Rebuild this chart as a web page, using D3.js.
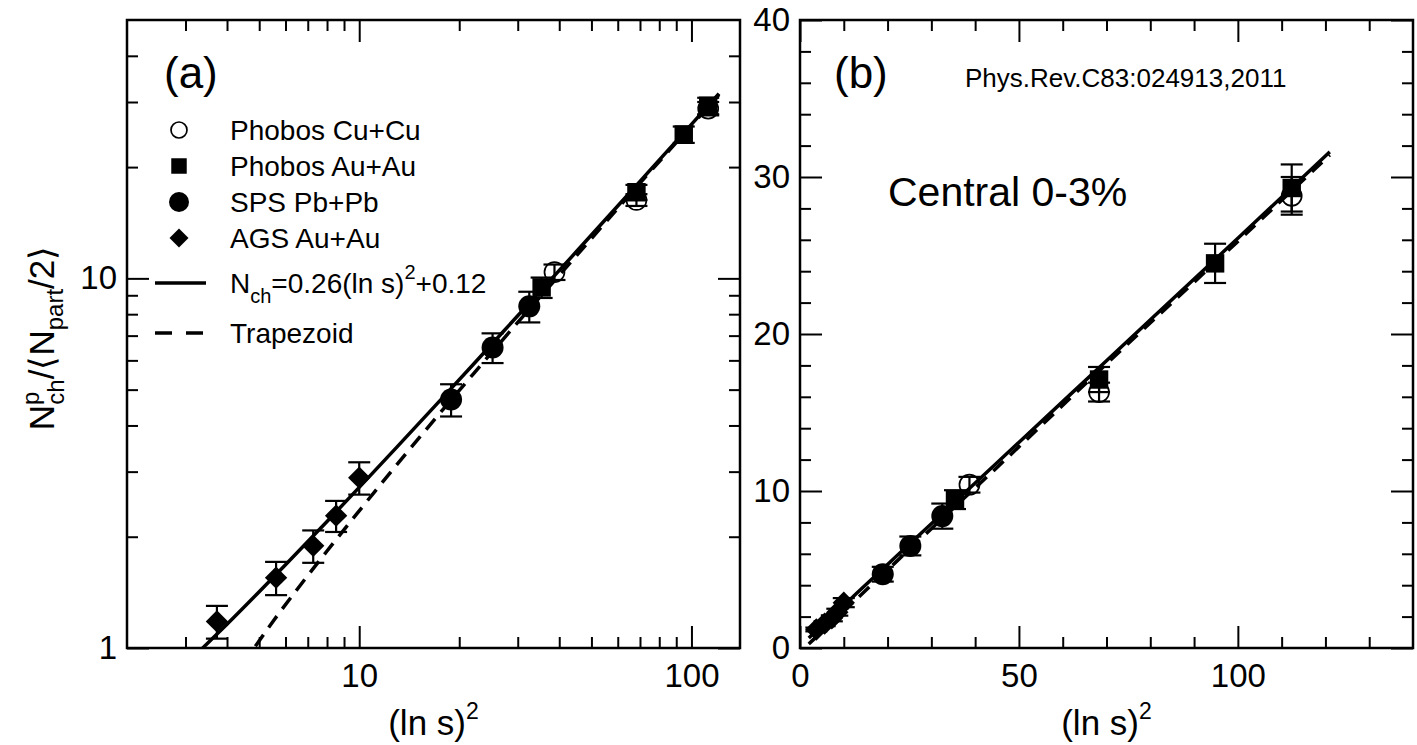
<!DOCTYPE html>
<html>
<head>
<meta charset="utf-8">
<script src="https://cdn.jsdelivr.net/npm/d3@7"></script>
<style>
  html, body { margin: 0; padding: 0; background: #fff; }
  svg { display: block; }
  text { font-family: "Liberation Sans", Arial, Helvetica, sans-serif; fill: #000; }
</style>
</head>
<body>
<svg id="chart" width="1417" height="745"></svg>
<script>
// ---------------- data ----------------
const cuX = [38.7, 68.3, 112.3];            // Phobos Cu+Cu
const cuY = [10.4, 16.3, 28.8];
const cuErr = [0.5, 0.6, 1.2];

const auX = [35.4, 68.3, 94.8, 112.3];      // Phobos Au+Au
const auY = [9.45, 17.1, 24.5, 29.3];
const auErr = [0.6, 0.8, 1.25, 1.5];

const spsX = [18.9, 25.2, 32.5];            // SPS Pb+Pb
const spsY = [4.7, 6.5, 8.4];
const spsErr = [0.47, 0.6, 0.8];

const agsX = [3.73, 5.62, 7.27, 8.52, 10.0]; // AGS Au+Au
const agsY = [1.18, 1.55, 1.89, 2.28, 2.89];
const agsErr = [0.12, 0.16, 0.19, 0.22, 0.29];

// solid line: N_ch = 0.26 (ln s)^2 + 0.12
const fitX = [2.0, 3.38, 4, 5, 6, 8, 10, 13, 17, 22, 30, 45, 70, 100, 121];
const fitY = [0.64, 1.00, 1.16, 1.42, 1.68, 2.20, 2.72, 3.50, 4.54, 5.84, 7.92, 11.8, 18.3, 26.1, 31.6];
// dashed line: Trapezoid
const trapX = [2.0, 4.83, 5.5, 6.5, 8, 10, 13, 17, 22, 30, 45, 70, 100, 121];
const trapY = [0.26, 1.00, 1.18, 1.44, 1.83, 2.35, 3.14, 4.19, 5.50, 7.60, 11.5, 18.1, 25.9, 31.4];

// axes ticks / labels
const xMajorA = [10, 100];
const xMinorA = [3, 4, 5, 6, 7, 8, 9, 20, 30, 40, 50, 60, 70, 80, 90];
const yMajorA = [1, 10];
const yMinorA = [2, 3, 4, 5, 6, 7, 8, 9, 20, 30, 40];
const xMajorB = [0, 50, 100];
const xMinorB = [10, 20, 30, 40, 60, 70, 80, 90, 110, 120, 130];
const yMajorB = [0, 10, 20, 30, 40];
const yMinorB = [2, 4, 6, 8, 12, 14, 16, 18, 22, 24, 26, 28, 32, 34, 36, 38];

const legendLabels = ["Phobos Cu+Cu", "Phobos Au+Au", "SPS Pb+Pb", "AGS Au+Au"];

// ---------------- layout ----------------
const svg = d3.select("#chart");
const A = {x0: 127, x1: 740, y0: 20, y1: 648};
const B = {x0: 800, x1: 1413, y0: 20, y1: 648};
const MAJ = 22, MIN = 11;

const xA = d3.scaleLog().domain([2, 140]).range([A.x0, A.x1]);
const yA = d3.scaleLog().domain([1, 50]).range([A.y1, A.y0]);
const xB = d3.scaleLinear().domain([0, 140]).range([B.x0, B.x1]);
const yB = d3.scaleLinear().domain([0, 40]).range([B.y1, B.y0]);

const zip = (xs, ys, es) => xs.map((x, i) => ({x, y: ys[i], e: es ? es[i] : 0}));
const cu = zip(cuX, cuY, cuErr), au = zip(auX, auY, auErr),
      sps = zip(spsX, spsY, spsErr), ags = zip(agsX, agsY, agsErr);
const fit = zip(fitX, fitY), trap = zip(trapX, trapY);

function drawAxes(P, x, y, xMaj, xMin, yMaj, yMin) {
  const g = svg.append("g");
  const style = sel => {
    sel.select(".domain").remove();
    sel.selectAll(".tick line").attr("stroke", "#000").attr("stroke-width", 2);
    sel.selectAll(".tick text").style("font-size", "33px")
      .style("font-family", '"Liberation Sans", Arial, sans-serif').attr("fill", "#000");
  };
  g.append("g").attr("transform", `translate(0,${P.y1})`)
    .call(d3.axisBottom(x).tickValues(xMaj).tickSize(-MAJ).tickPadding(10).tickFormat(d3.format("d"))).call(style)
    .selectAll(".tick text").attr("dy", "0.88em");
  g.append("g").attr("transform", `translate(0,${P.y1})`)
    .call(d3.axisBottom(x).tickValues(xMin).tickSize(-MIN).tickFormat("")).call(style);
  g.append("g").attr("transform", `translate(0,${P.y0})`)
    .call(d3.axisTop(x).tickValues(xMaj).tickSize(-MAJ).tickFormat("")).call(style);
  g.append("g").attr("transform", `translate(0,${P.y0})`)
    .call(d3.axisTop(x).tickValues(xMin).tickSize(-MIN).tickFormat("")).call(style);
  g.append("g").attr("transform", `translate(${P.x0},0)`)
    .call(d3.axisLeft(y).tickValues(yMaj).tickSize(-MAJ).tickPadding(10).tickFormat(d3.format("d"))).call(style);
  g.append("g").attr("transform", `translate(${P.x0},0)`)
    .call(d3.axisLeft(y).tickValues(yMin).tickSize(-MIN).tickFormat("")).call(style);
  g.append("g").attr("transform", `translate(${P.x1},0)`)
    .call(d3.axisRight(y).tickValues(yMaj).tickSize(-MAJ).tickFormat("")).call(style);
  g.append("g").attr("transform", `translate(${P.x1},0)`)
    .call(d3.axisRight(y).tickValues(yMin).tickSize(-MIN).tickFormat("")).call(style);
  g.append("rect").attr("x", P.x0).attr("y", P.y0).attr("width", P.x1 - P.x0).attr("height", P.y1 - P.y0)
    .attr("fill", "none").attr("stroke", "#000").attr("stroke-width", 2.5);
  const t = g.append("text").attr("x", (P.x0 + P.x1) / 2).attr("y", 735)
    .attr("text-anchor", "middle").style("font-size", "35px");
  t.append("tspan").text("(ln s)");
  t.append("tspan").attr("dy", -16).style("font-size", "23px").text("2");
}

function drawData(P, x, y, id) {
  svg.append("clipPath").attr("id", id)
    .append("rect").attr("x", P.x0).attr("y", P.y0).attr("width", P.x1 - P.x0).attr("height", P.y1 - P.y0);
  const g = svg.append("g").attr("clip-path", `url(#${id})`);
  const CAP = 11;
  const errs = g.append("g").attr("stroke", "#000").attr("stroke-width", 2.2);
  [cu, au, sps, ags].forEach(s => {
    s.forEach(d => {
      const px = x(d.x), yt = y(d.y + d.e), yb = y(d.y - d.e);
      errs.append("line").attr("x1", px).attr("x2", px).attr("y1", yt).attr("y2", yb);
      errs.append("line").attr("x1", px - CAP).attr("x2", px + CAP).attr("y1", yt).attr("y2", yt);
      errs.append("line").attr("x1", px - CAP).attr("x2", px + CAP).attr("y1", yb).attr("y2", yb);
    });
  });
  const line = d3.line().x(d => x(d.x)).y(d => y(d.y)).curve(d3.curveMonotoneX);
  g.append("path").datum(trap).attr("d", line).attr("fill", "none").attr("stroke", "#000")
    .attr("stroke-width", 3.5).attr("stroke-dasharray", "14,9");
  g.append("path").datum(fit).attr("d", line).attr("fill", "none").attr("stroke", "#000")
    .attr("stroke-width", 3.5);
  const sym = (type, size) => d3.symbol().type(type).size(size)();
  g.selectAll(".sq").data(au).join("path").attr("transform", d => `translate(${x(d.x)},${y(d.y)})`)
    .attr("d", sym(d3.symbolSquare, 340)).attr("fill", "#000");
  g.selectAll(".ci").data(sps).join("circle").attr("cx", d => x(d.x)).attr("cy", d => y(d.y))
    .attr("r", 11).attr("fill", "#000");
  g.selectAll(".di").data(ags).join("path")
    .attr("transform", d => `translate(${x(d.x)},${y(d.y)}) rotate(45)`)
    .attr("d", sym(d3.symbolSquare, 250)).attr("fill", "#000");
  g.selectAll(".oc").data(cu).join("circle").attr("cx", d => x(d.x)).attr("cy", d => y(d.y))
    .attr("r", 10).attr("fill", "none").attr("stroke", "#000").attr("stroke-width", 1.7);
}

drawData(A, xA, yA, "clipA");
drawData(B, xB, yB, "clipB");
drawAxes(A, xA, yA, xMajorA, xMinorA, yMajorA, yMinorA);
drawAxes(B, xB, yB, xMajorB, xMinorB, yMajorB, yMinorB);

// y title (panel a)
const yt = svg.append("text").attr("transform", "translate(54,338) rotate(-90)")
  .attr("text-anchor", "middle").style("font-size", "35px");
yt.append("tspan").text("N");
yt.append("tspan").attr("dy", -15).style("font-size", "24px").text("p");
yt.append("tspan").attr("dx", -13).attr("dy", 25).style("font-size", "24px").text("ch");
yt.append("tspan").attr("dy", -10).text("/\u27E8N");
yt.append("tspan").attr("dy", 9).style("font-size", "24px").text("part");
yt.append("tspan").attr("dy", -9).text("/2\u27E9");

// panel labels
svg.append("text").attr("x", 164).attr("y", 88).style("font-size", "44px").text("(a)");
svg.append("text").attr("x", 834).attr("y", 88).style("font-size", "44px").text("(b)");
svg.append("text").attr("x", 965).attr("y", 87).style("font-size", "26px").text("Phys.Rev.C83:024913,2011");
svg.append("text").attr("x", 888).attr("y", 206).style("font-size", "41px").text("Central 0-3%");

// legend (panel a)
const lg = svg.append("g");
const lx = 179, tx = 230, rows = [130, 166, 202, 238];
const sym2 = (type, size) => d3.symbol().type(type).size(size)();
lg.append("circle").attr("cx", lx).attr("cy", rows[0]).attr("r", 8)
  .attr("fill", "none").attr("stroke", "#000").attr("stroke-width", 1.7);
lg.append("path").attr("transform", `translate(${lx},${rows[1]})`).attr("d", sym2(d3.symbolSquare, 240));
lg.append("circle").attr("cx", lx).attr("cy", rows[2]).attr("r", 10);
lg.append("path").attr("transform", `translate(${lx},${rows[3]}) rotate(45)`).attr("d", sym2(d3.symbolSquare, 180));
legendLabels.forEach((s, i) => {
  lg.append("text").attr("x", tx).attr("y", rows[i] + 10).style("font-size", "28px").text(s);
});
lg.append("line").attr("x1", 155).attr("x2", 206).attr("y1", 283).attr("y2", 283)
  .attr("stroke", "#000").attr("stroke-width", 3.5);
lg.append("line").attr("x1", 155).attr("x2", 206).attr("y1", 333).attr("y2", 333)
  .attr("stroke", "#000").attr("stroke-width", 3.5).attr("stroke-dasharray", "17,14");
const nt = lg.append("text").attr("x", tx).attr("y", 293).style("font-size", "28px");
nt.append("tspan").text("N");
nt.append("tspan").attr("dy", 10).style("font-size", "20px").text("ch");
nt.append("tspan").attr("dy", -10).text("=0.26(ln s)");
nt.append("tspan").attr("dy", -14).style("font-size", "20px").text("2");
nt.append("tspan").attr("dy", 14).text("+0.12");
lg.append("text").attr("x", tx).attr("y", 343).style("font-size", "28px").text("Trapezoid");
</script>
</body>
</html>
